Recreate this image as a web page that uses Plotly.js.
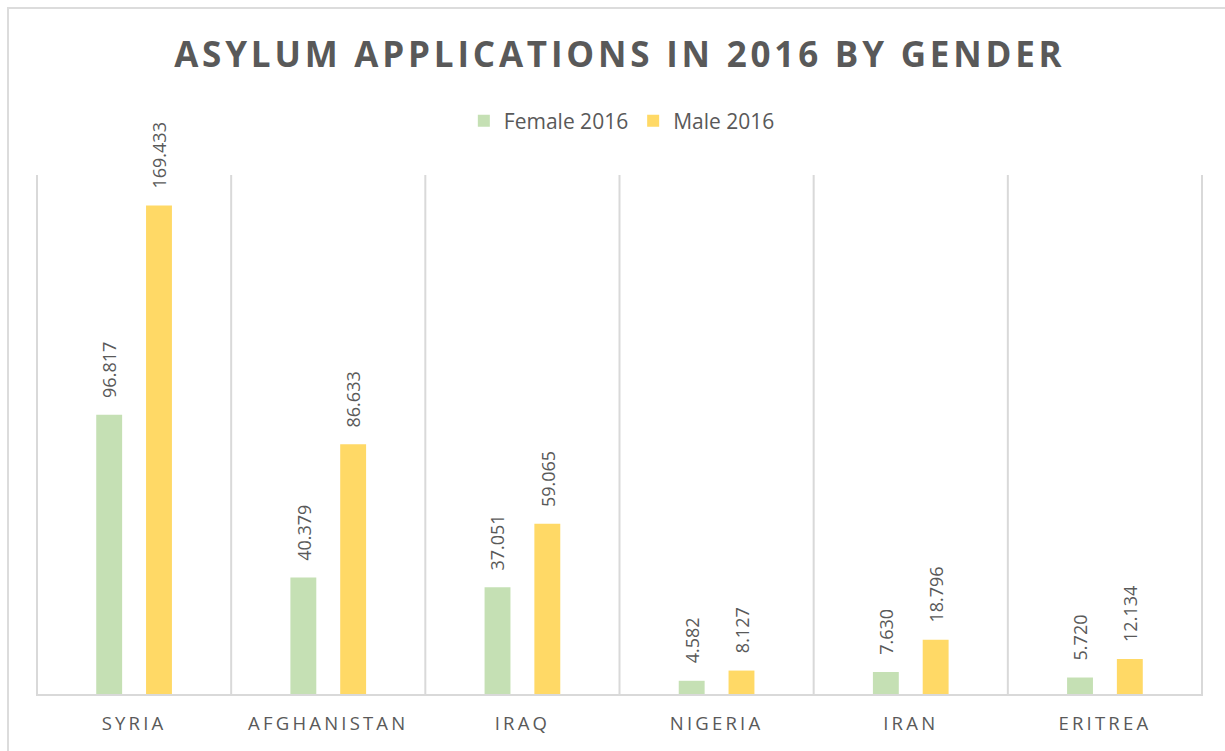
<!DOCTYPE html>
<html>
<head>
<meta charset="utf-8">
<script src="https://cdn.plot.ly/plotly-3.0.1.min.js"></script>
<style>
  html, body { margin: 0; padding: 0; background: #fff; }
  #frame { position: absolute; left: 7px; top: 7px; width: 1225px; height: 751px;
           border-top: 2px solid #dcdcdc; border-left: 2px solid #dcdcdc; pointer-events: none; }
</style>
</head>
<body>
<div id="chart" style="width:1225px;height:751px;"></div>
<div id="frame"></div>
<script>
const categories = ["SYRIA", "AFGHANISTAN", "IRAQ", "NIGERIA", "IRAN", "ERITREA"];
const female2016 = [96.817, 40.379, 37.051, 4.582, 7.630, 5.720];
const male2016 = [169.433, 86.633, 59.065, 8.127, 18.796, 12.134];

const labelFont = { family: "Open Sans, sans-serif", size: 18, color: "#595959" };

const traces = [
  {
    type: "bar", name: "Female 2016", x: categories, y: female2016,
    marker: { color: "#c5e0b4" }, hoverinfo: "x+y"
  },
  {
    type: "bar", name: "Male 2016", x: categories, y: male2016,
    marker: { color: "#ffd966" }, hoverinfo: "x+y"
  }
];

function labelAnn(vals, shift) {
  return vals.map((v, i) => ({
    x: categories[i], y: v, xref: "x", yref: "y",
    text: v.toFixed(3), showarrow: false, textangle: -90,
    xanchor: "center", yanchor: "bottom", xshift: shift, yshift: 15,
    font: labelFont
  }));
}

const layout = {
  width: 1225, height: 751,
  margin: { l: 36, r: 22, t: 175, b: 57 },
  paper_bgcolor: "#ffffff", plot_bgcolor: "#ffffff",
  title: {
    text: "<b>ASYLUM APPLICATIONS IN 2016 BY GENDER</b>",
    font: { family: "Open Sans, sans-serif", size: 35, color: "#595959" },
    x: 0.506, xanchor: "center", y: 0.927, yanchor: "middle"
  },
  showlegend: true,
  legend: {
    orientation: "h", x: 0.502, xanchor: "center", y: 1.104, yanchor: "middle",
    font: { family: "Open Sans, sans-serif", size: 21, color: "#595959" },
    itemsizing: "constant", traceorder: "normal"
  },
  barmode: "group", bargap: 0.487, bargroupgap: 0.48,
  xaxis: {
    type: "category",
    showgrid: false, zeroline: false,
    showline: true, linecolor: "#d9d9d9", linewidth: 2,
    ticks: "", ticklabelstandoff: 12,
    tickfont: { family: "Open Sans, sans-serif", size: 18.5, color: "#595959" },
    fixedrange: true
  },
  yaxis: {
    range: [0, 180], showgrid: false, zeroline: false, showline: false,
    showticklabels: false, ticks: "", fixedrange: true
  },
  annotations: labelAnn(female2016, -25).concat(labelAnn(male2016, 25)),
  shapes: [0, 1, 2, 3, 4, 5, 6].map(i => ({
    type: "line", xref: "x", yref: "paper",
    x0: i - 0.5, x1: i - 0.5, y0: 0, y1: 1,
    line: { color: "#d9d9d9", width: 2 }, layer: "below"
  }))
};

Plotly.newPlot("chart", traces, layout, { displayModeBar: false, staticPlot: true }).then(() => {
  document.querySelectorAll(".gtitle").forEach(t => { t.style.letterSpacing = "3.8px"; });
  document.querySelectorAll(".xtick text").forEach(t => { t.style.letterSpacing = "3.2px"; });
});
</script>
</body>
</html>
